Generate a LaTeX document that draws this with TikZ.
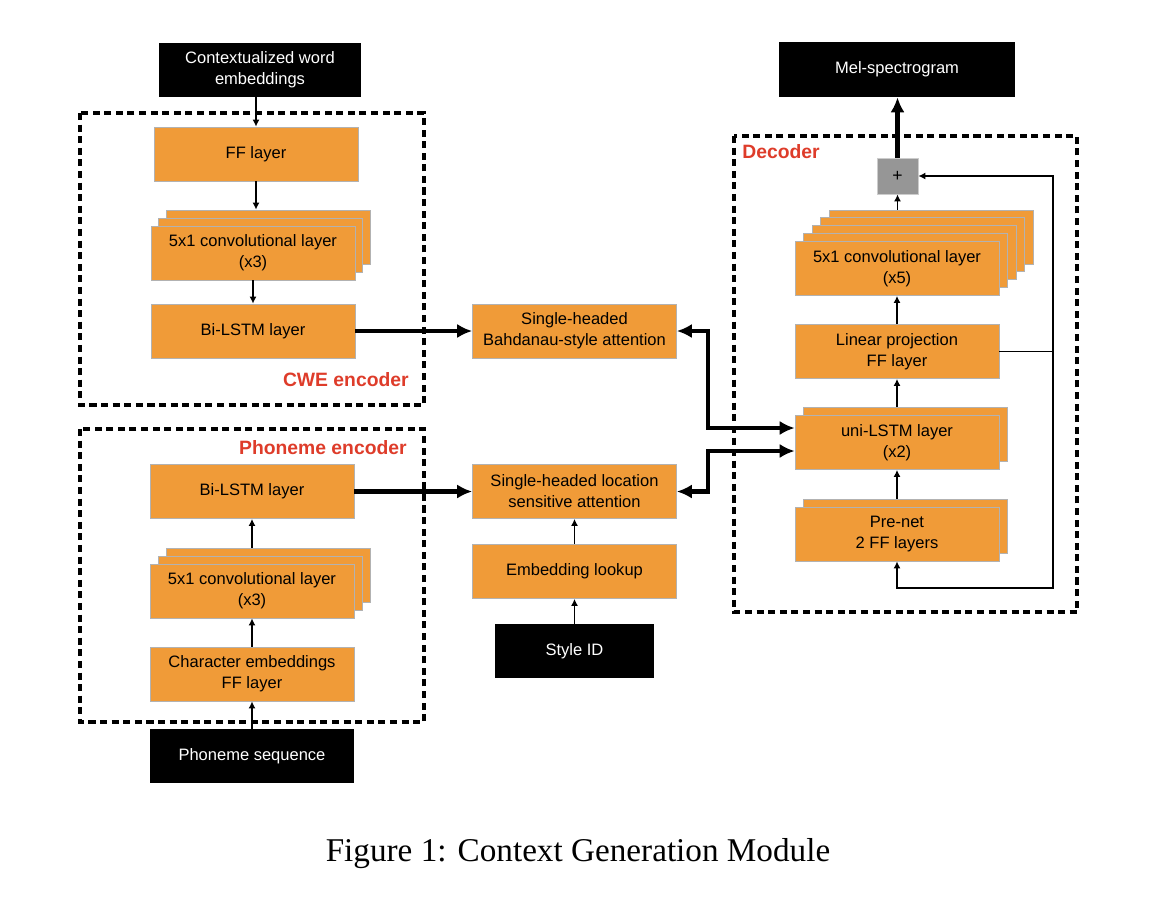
\documentclass[tikz,border=0pt]{standalone}
\usepackage{fontspec}
\setmainfont{Liberation Sans}
\newfontfamily\captionfont{Liberation Serif}
\usetikzlibrary{arrows.meta}

\definecolor{layerorange}{RGB}{240,155,56}
\definecolor{labelred}{RGB}{222,60,42}
\definecolor{plusgray}{RGB}{150,150,150}

\tikzset{
  layer/.style={draw=black!30, fill=layerorange, minimum width=4.08cm, minimum height=1.08cm,
    inner sep=0pt, align=center, font=\fontsize{9.4}{12}\selectfont},
  io/.style={fill=black, text=white, minimum height=1.08cm, inner sep=0pt, align=center,
    font=\fontsize{9.4}{12}\selectfont},
  modulebox/.style={line width=2pt, dash pattern=on 4pt off 2.6pt},
  grouplabel/.style={text=labelred, inner sep=0pt, font=\bfseries\fontsize{11}{13}\selectfont},
  flow/.style={-{Latex[length=4pt,width=4pt]}, line width=0.8pt},
  bigflow/.style={-{Latex[length=8.5pt,width=8pt]}, line width=2.3pt},
  bigboth/.style={{Latex[length=8.5pt,width=8pt]}-{Latex[length=8.5pt,width=8pt]}, line width=2.3pt}
}

\begin{document}
\begin{tikzpicture}[x=0.02cm, y=-0.02cm]
\useasboundingbox (0,0) rectangle (1156,904);

% module frames
\draw[modulebox] (80,113) rectangle (424,405);
\draw[modulebox] (80,429) rectangle (424,722);
\draw[modulebox] (734,136) rectangle (1077,612);
\node[grouplabel, anchor=east] (cwelabel) at (409,380) {CWE encoder};
\node[grouplabel, anchor=east] (phonlabel) at (407,448) {Phoneme encoder};
\node[grouplabel, anchor=west] (declabel) at (742,152) {Decoder};

% CWE encoder
\node[io, minimum width=4.04cm] (cwe) at (260,70) {Contextualized word\\embeddings};
\node[layer] (ff) at (256,154) {FF layer};
\node[layer] (convAc) at (268,237) {};
\node[layer] (convAb) at (260,245) {};
\node[layer] (convA) at (253,253) {5x1 convolutional layer\\(x3)};
\node[layer] (lstmA) at (253,331) {Bi-LSTM layer};

% phoneme encoder
\node[layer] (lstmB) at (252,491.5) {Bi-LSTM layer};
\node[layer] (convBc) at (268,575) {};
\node[layer] (convBb) at (260,583) {};
\node[layer] (convB) at (252,591) {5x1 convolutional layer\\(x3)};
\node[layer] (charemb) at (252,674) {Character embeddings\\FF layer};
\node[io, minimum width=4.08cm] (phonseq) at (252,756) {Phoneme sequence};

% attention
\node[layer] (bahdanau) at (574.5,331) {Single-headed\\Bahdanau-style attention};
\node[layer] (location) at (574.5,491.5) {Single-headed location\\sensitive attention};
\node[layer] (embed) at (574.5,571.5) {Embedding lookup};
\node[io, minimum width=3.18cm] (styleid) at (574.5,651) {Style ID};

% decoder
\node[io, minimum width=4.72cm, minimum height=1.1cm] (mel) at (897,69.5) {Mel-spectrogram};
\node[draw=black!20, fill=plusgray, minimum width=0.82cm, minimum height=0.72cm, inner sep=0pt,
  font=\fontsize{10}{12}\selectfont] (plus) at (897.5,176) {+};
\foreach \k in {4,3,2,1}
  \node[layer] (dconv\k) at ({897+8.5*\k},{268.5-7.9*\k}) {};
\node[layer] (dconv) at (897,268.5) {5x1 convolutional layer\\(x5)};
\node[layer] (linproj) at (897,351.5) {Linear projection\\FF layer};
\node[layer] (unilstmb) at (905,434.5) {};
\node[layer] (unilstm) at (897,442.5) {uni-LSTM layer\\(x2)};
\node[layer] (prenetb) at (905,526) {};
\node[layer] (prenet) at (897,534) {Pre-net\\2 FF layers};

\coordinate (upbend) at (708,428);
\coordinate (lowbend) at (708,451);
\coordinate (fb) at (1053,351.5);
\coordinate (fbfoot) at (1053,588);

% encoder flows
\draw[flow] (ff.north |- cwe.south) -- (ff.north);
\draw[flow] (ff.south) -- (ff.south |- convAc.north);
\draw[flow] (convA.south) -- (lstmA.north);
\draw[flow] (phonseq.north) -- (charemb.south);
\draw[flow] (charemb.north) -- (convB.south);
\draw[flow] (convB.north |- convBc.north) -- (lstmB.south);
\draw[flow] (styleid.north) -- (embed.south);
\draw[flow] (embed.north) -- (location.south);
\draw[bigflow] (lstmA.east) -- (bahdanau.west);
\draw[bigflow] (lstmB.east) -- (location.west);

% attention <-> decoder
\draw[bigboth] (bahdanau.east) -| (upbend) -- (upbend -| unilstm.west);
\draw[bigboth] (location.east) -| (lowbend) -- (lowbend -| unilstm.west);

% decoder flows
\draw[flow] (prenet.north |- prenetb.north) -- (unilstm.south);
\draw[flow] (unilstm.north |- unilstmb.north) -- (linproj.south);
\draw[flow] (linproj.north) -- (dconv.south);
\draw[flow] (plus.south |- dconv4.north) -- (plus.south);
\draw[bigflow] (plus.north) -- (plus.north |- mel.south);
\draw[line width=0.8pt] (linproj.east) -- (fb);
\draw[flow] (fb) |- (plus.east);
\draw[flow] (fb) -- (fbfoot) -| (prenet.south);

% caption
\node[font=\captionfont\fontsize{18.9}{22}\selectfont] (caption) at (578,854) {Figure 1: Context Generation Module};
\end{tikzpicture}
\end{document}
